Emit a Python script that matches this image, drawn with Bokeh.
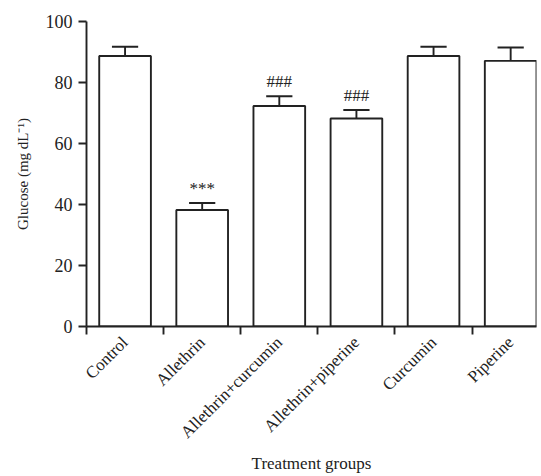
import math
from bokeh.plotting import figure
from bokeh.models import FixedTicker, Range1d
from bokeh.embed import file_html
from bokeh.resources import INLINE
from bokeh.core.properties import value

groups = ["Control", "Allethrin", "Allethrin+curcumin", "Allethrin+piperine", "Curcumin", "Piperine"]
glucose = [88.7, 38.2, 72.3, 68.2, 88.7, 87.1]
sem = [3.0, 2.3, 3.2, 2.8, 3.0, 4.4]
marks = ["", "***", "###", "###", "", ""]
y_ticks = [0, 20, 40, 60, 80, 100]
x_title = "Treatment groups"
y_title = "Glucose (mg dL\u207b\u00b9)"

FONT = "Liberation Serif"
INK = "#222222"
LW = 1.9
n = len(groups)
xc = [i + 0.5 for i in range(n)]
upper = [g + s for g, s in zip(glucose, sem)]
bar_w = 0.67
cap_half = 0.17

p = figure(frame_width=450, frame_height=305, output_backend="svg", toolbar_location=None,
           x_range=Range1d(0, n - 0.5 + bar_w / 2), y_range=Range1d(0, 100),
           min_border_left=86, min_border_right=2, min_border_top=21, min_border_bottom=146)
p.outline_line_color = None
p.xgrid.grid_line_color = None
p.ygrid.grid_line_color = None

# error bars
p.segment(x0=xc, y0=glucose, x1=xc, y1=upper, line_color=INK, line_width=LW)
p.segment(x0=[x - cap_half for x in xc], y0=upper, x1=[x + cap_half for x in xc], y1=upper,
          line_color=INK, line_width=LW)
# bars
p.vbar(x=xc, top=glucose, width=bar_w, fill_color="white", line_color=INK, line_width=LW)
# significance marks
p.text(x=xc, y=upper, text=marks, text_align="center", text_baseline="bottom", y_offset=-5,
       text_font=value(FONT), text_font_size="17px", text_color=INK)

# x axis
xa = p.xaxis[0]
xa.ticker = FixedTicker(ticks=xc, minor_ticks=list(range(n)))
xa.major_label_overrides = {x: g for x, g in zip(xc, groups)}
xa.major_label_orientation = math.pi / 4
xa.major_tick_out = 0
xa.major_tick_in = 0
xa.minor_tick_out = 8
xa.minor_tick_in = 0
xa.minor_tick_line_color = INK
xa.minor_tick_line_width = LW
xa.axis_line_color = INK
xa.axis_line_width = LW
xa.major_label_text_font = FONT
xa.major_label_text_font_size = "17px"
xa.major_label_text_color = INK
xa.major_label_standoff = 5
xa.axis_label = x_title
xa.axis_label_text_font = FONT
xa.axis_label_text_font_size = "17px"
xa.axis_label_text_font_style = "normal"
xa.axis_label_text_color = INK
xa.axis_label_standoff = 2

# y axis
ya = p.yaxis[0]
ya.ticker = FixedTicker(ticks=y_ticks, minor_ticks=[])
ya.major_tick_out = 8
ya.major_tick_in = 0
ya.major_tick_line_color = INK
ya.major_tick_line_width = LW
ya.axis_line_color = INK
ya.axis_line_width = LW
ya.major_label_text_font = FONT
ya.major_label_text_font_size = "18px"
ya.major_label_text_color = INK
ya.major_label_standoff = 6
ya.axis_label = y_title
ya.axis_label_text_font = FONT
ya.axis_label_text_font_size = "15px"
ya.axis_label_text_font_style = "normal"
ya.axis_label_text_color = INK
ya.axis_label_standoff = 12

open("out.html", "w").write(file_html(p, INLINE))
